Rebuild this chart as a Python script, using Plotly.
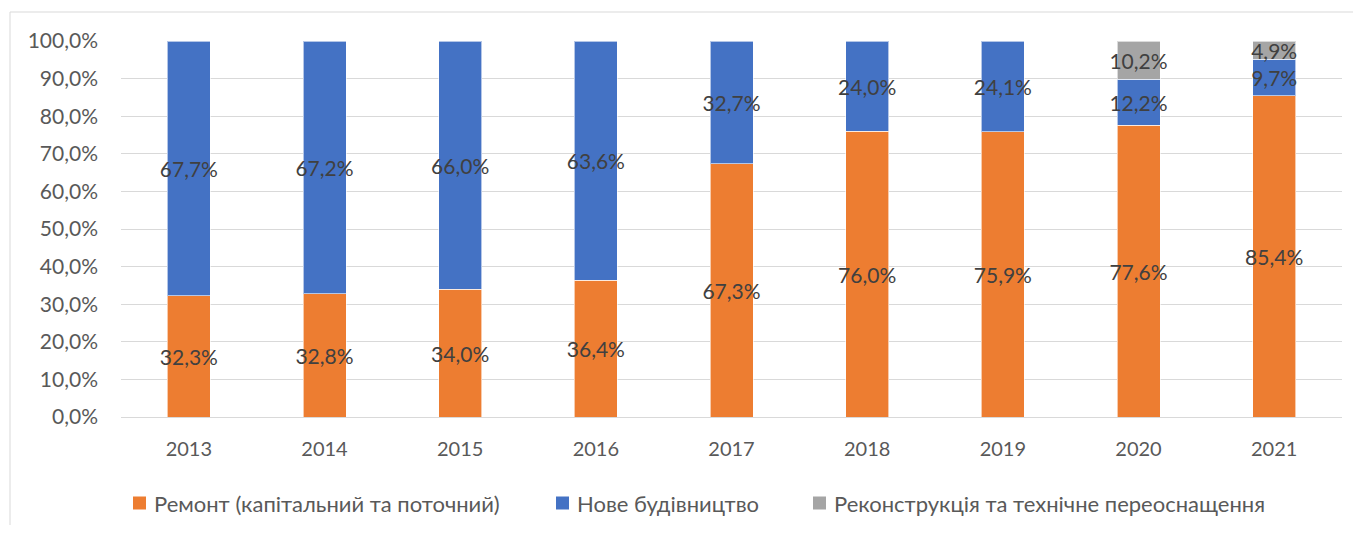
import plotly.graph_objects as go

years = ["2013", "2014", "2015", "2016", "2017", "2018", "2019", "2020", "2021"]
repair = [32.3, 32.8, 34.0, 36.4, 67.3, 76.0, 75.9, 77.6, 85.4]
new_build = [67.7, 67.2, 66.0, 63.6, 32.7, 24.0, 24.1, 12.2, 9.7]
reconstr = [None, None, None, None, None, None, None, 10.2, 4.9]

names = ["Ремонт (капітальний та поточний)", "Нове будівництво",
         "Реконструкція та технічне переоснащення"]
colors = ["#ED7D31", "#4472C4", "#A5A5A5"]

FONT = "Lato, 'Open Sans', sans-serif"

fig = go.Figure()
for vals, name, col in zip([repair, new_build, reconstr], names, colors):
    fig.add_trace(go.Bar(
        x=years, y=vals, name=name,
        marker=dict(color=col, line=dict(color="rgba(255,255,255,0.6)", width=1)),
        texttemplate="%{y:.1f}%", textposition="inside", insidetextanchor="middle",
        textangle=0, constraintext="none",
        textfont=dict(family=FONT, size=21, color="#404040"),
        hoverinfo="skip", showlegend=False,
    ))

# page has an 8px body margin; figure coordinates = page coordinates - 8
OFF = 8
W, H = 1345, 517
L, R, T, B = 121 - OFF, W - (1342 - OFF), 41 - OFF, H - (417 - OFF)
pw = W - L - R
ph = H - T - B


def px_x(p):
    return (p - OFF - L) / pw


def px_y(p):
    return (H - B - (p - OFF)) / ph


shapes = [dict(type="rect", xref="paper", yref="paper",
               x0=px_x(10), x1=px_x(1380), y0=px_y(560), y1=px_y(12),
               line=dict(color="#D9D9D9", width=1), fillcolor="rgba(0,0,0,0)",
               layer="below")]
annotations = []
# custom legend (square + label) positioned as in the reference
leg_sq_x = [133, 556, 813]
leg_y = 503
for sx, name, col in zip(leg_sq_x, names, colors):
    shapes.append(dict(type="rect", xref="paper", yref="paper",
                       x0=px_x(sx), x1=px_x(sx + 13), y0=px_y(leg_y + 6.5), y1=px_y(leg_y - 6.5),
                       line=dict(width=0), fillcolor=col))
    annotations.append(dict(xref="paper", yref="paper", x=px_x(sx + 19), y=px_y(leg_y),
                            xanchor="left", yanchor="middle", showarrow=False, text=name,
                            font=dict(family=FONT, size=22, color="#595959")))

fig.update_layout(
    width=W, height=H,
    barmode="stack", bargap=0.683,
    separators=", ",
    paper_bgcolor="white", plot_bgcolor="white",
    margin=dict(l=L, r=R, t=T, b=B),
    font=dict(family=FONT, color="#595959"),
    showlegend=False,
    xaxis=dict(showgrid=False, tickfont=dict(family=FONT, size=20, color="#595959"),
               showline=False, ticks="", ticklabelstandoff=18),
    yaxis=dict(range=[0, 100], dtick=10, tickformat=".1f", ticksuffix="%",
               showgrid=True, gridcolor="#D9D9D9", gridwidth=1,
               zeroline=True, zerolinecolor="#D9D9D9", zerolinewidth=1,
               tickfont=dict(family=FONT, size=21, color="#595959"),
               ticks="", ticklabelstandoff=22, showline=False),
    shapes=shapes,
    annotations=annotations,
)

fig.write_html("out.html")
